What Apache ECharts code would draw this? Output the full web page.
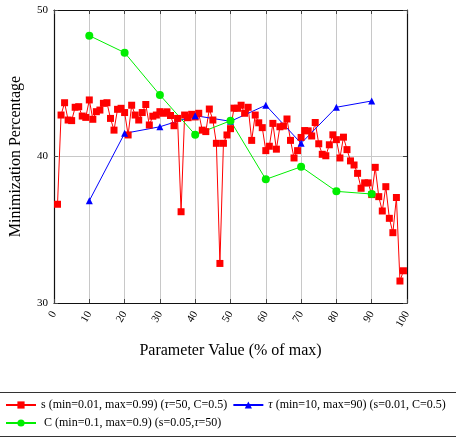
<!DOCTYPE html>
<html>
<head>
<meta charset="utf-8">
<script src="https://cdn.jsdelivr.net/npm/echarts@6/dist/echarts.min.js"></script>
<style>
html, body { margin: 0; padding: 0; background: #fff; }
#chart { width: 456px; height: 438px; }
</style>
</head>
<body>
<div id="chart"></div>
<script>
// s sweep: parameter 1..99 (% of max)
const sValues = [
  36.74, 42.83, 43.67, 42.49, 42.45, 43.36, 43.40, 42.76, 42.67, 43.86,
  42.54, 43.06, 43.17, 43.63, 43.67, 42.60, 41.80, 43.22, 43.29, 43.00,
  41.47, 43.50, 42.83, 42.49, 43.00, 43.55, 42.15, 42.75, 42.83, 43.06,
  42.95, 43.05, 42.80, 42.10, 42.60, 36.23, 42.83, 42.65, 42.88, 42.70,
  42.95, 41.80, 41.70, 43.24, 42.49, 40.90, 32.70, 40.90, 41.47, 41.90,
  43.30, 43.29, 43.50, 42.95, 43.36, 41.10, 42.83, 42.30, 41.97, 40.40,
  40.70, 42.26, 40.50, 42.03, 42.08, 42.56, 41.10, 39.90, 40.40, 41.30,
  41.77, 41.75, 41.40, 42.32, 40.87, 40.15, 40.05, 40.80, 41.48, 41.15,
  39.90, 41.32, 40.47, 39.70, 39.42, 38.85, 37.83, 38.20, 38.20, 37.40,
  39.26, 37.26, 36.28, 37.94, 35.78, 34.80, 37.20, 31.50, 32.20
]
// tau and C sweeps: parameter 10..90
const sweepX = [10, 20, 30, 40, 50, 60, 70, 80, 90]
const tauValues = [36.98, 41.58, 42.03, 42.79, 42.40, 43.50, 40.90, 43.36, 43.79]
const cValues = [48.25, 47.09, 44.20, 41.49, 42.44, 38.44, 39.30, 37.62, 37.44]

const names = [
  's (min=0.01, max=0.99) (τ=50, C=0.5)',
  'τ (min=10, max=90) (s=0.01, C=0.5)',
  ' C (min=0.1, max=0.9) (s=0.05,τ=50)'
]

const serif = 'Liberation Serif'
const chart = echarts.init(document.getElementById('chart'))

const tickStyle = { show: true, inside: true, length: 4, lineStyle: { color: '#444', width: 1 } }
const frameLine = { show: true, onZero: false, lineStyle: { color: '#111', width: 1.2 } }
const legendText = {
  fontFamily: serif, fontSize: 12, color: '#000',
  rich: { i: { fontFamily: serif, fontSize: 12, fontStyle: 'italic', color: '#000' } }
}

const option = {
  animation: false,
  grid: { left: 53, right: 49, top: 10, bottom: 135 },
  legend: [
    {
      data: [names[0], names[1]],
      left: 5,
      top: 399,
      padding: 0,
      itemWidth: 30,
      itemHeight: 9,
      itemGap: 5,
      formatter: (n) => n.replace(/τ/g, '{i|τ}'),
      textStyle: legendText
    },
    {
      data: [names[2]],
      left: 5,
      top: 417,
      padding: 0,
      itemWidth: 30,
      itemHeight: 9,
      formatter: (n) => n.replace(/τ/g, '{i|τ}'),
      textStyle: legendText
    }
  ],
  graphic: [
    {
      type: 'rect',
      shape: { x: -2, y: 392.5, width: 460, height: 44 },
      style: { fill: 'none', stroke: '#333', lineWidth: 1 }
    }
  ],
  xAxis: [
    {
      type: 'value',
      min: 0, max: 100, interval: 10,
      name: 'Parameter Value (% of max)',
      nameLocation: 'middle',
      nameGap: 40,
      nameTextStyle: { fontFamily: serif, fontSize: 16, color: '#000' },
      axisLine: frameLine,
      axisTick: tickStyle,
      axisLabel: { rotate: 60, fontFamily: serif, fontSize: 11, color: '#000', margin: 9 },
      splitLine: { show: true, lineStyle: { color: '#c8c8c8', width: 1 } }
    },
    {
      type: 'value', position: 'top',
      min: 0, max: 100, interval: 10,
      axisLine: frameLine,
      axisTick: tickStyle,
      axisLabel: { show: false },
      splitLine: { show: false }
    }
  ],
  yAxis: [
    {
      type: 'value',
      min: 30, max: 50, interval: 10,
      name: 'Minimization Percentage',
      nameLocation: 'middle',
      nameGap: 30,
      nameTextStyle: { fontFamily: serif, fontSize: 16, color: '#000' },
      axisLine: frameLine,
      axisTick: tickStyle,
      axisLabel: { fontFamily: serif, fontSize: 11, color: '#000', margin: 6 },
      splitLine: { show: true, lineStyle: { color: '#c8c8c8', width: 1 } }
    },
    {
      type: 'value', position: 'right',
      min: 30, max: 50, interval: 10,
      axisLine: frameLine,
      axisTick: tickStyle,
      axisLabel: { show: false },
      splitLine: { show: false }
    }
  ],
  series: [
    {
      name: names[0],
      type: 'line',
      data: sValues.map((v, i) => [i + 1, v]),
      symbol: 'rect',
      symbolSize: 7,
      color: '#ff0000',
      itemStyle: { color: '#ff0000' },
      lineStyle: { color: '#ff0000', width: 1 }
    },
    {
      name: names[1],
      type: 'line',
      data: sweepX.map((x, i) => [x, tauValues[i]]),
      symbol: 'triangle',
      symbolSize: 7,
      color: '#0000ff',
      itemStyle: { color: '#0000ff' },
      lineStyle: { color: '#0000ff', width: 1 }
    },
    {
      name: names[2],
      type: 'line',
      data: sweepX.map((x, i) => [x, cValues[i]]),
      symbol: 'circle',
      symbolSize: 8,
      color: '#00ee00',
      itemStyle: { color: '#00ee00' },
      lineStyle: { color: '#00ee00', width: 1 }
    }
  ]
}

chart.setOption(option)
</script>
</body>
</html>
